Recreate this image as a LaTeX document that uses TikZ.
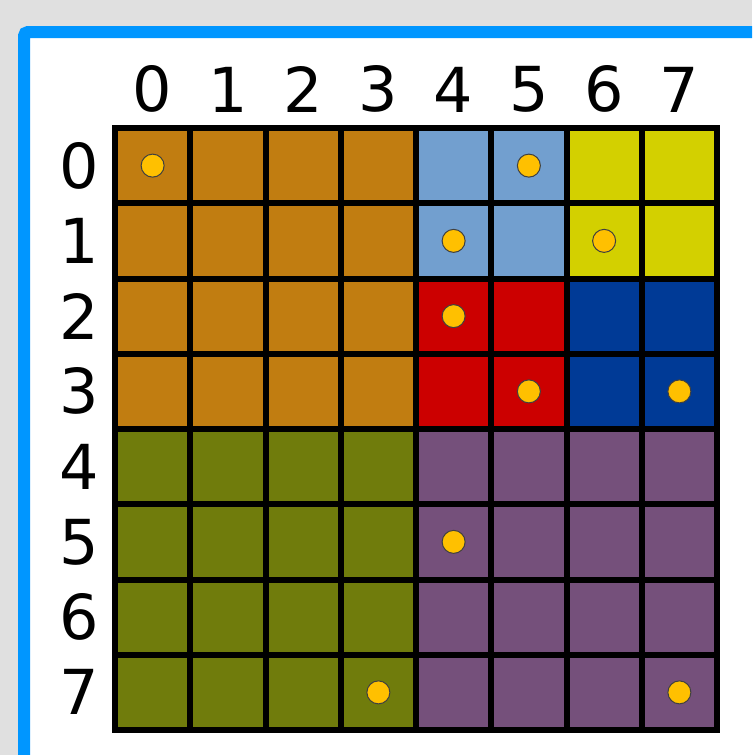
\documentclass[tikz,border=0pt]{standalone}
\usepackage{fontspec}
\setsansfont{DejaVu Sans}
\usepackage{tikz}
\usepackage{xcolor}
\usetikzlibrary{positioning}
\definecolor{cPaper}{HTML}{E0E0E0}
\definecolor{cFrame}{HTML}{0096FF}
\definecolor{cBrown}{HTML}{C17D11}
\definecolor{cSky}  {HTML}{729FCF}
\definecolor{cLime} {HTML}{D3D000}
\definecolor{cRed}  {HTML}{CC0000}
\definecolor{cNavy} {HTML}{003A96}
\definecolor{cOlive}{HTML}{707C0C}
\definecolor{cPlum} {HTML}{75507B}
\definecolor{cDot}  {HTML}{FFC000}
\tikzset{
  cell/.style ={draw=black,line width=3pt,minimum size=37.625pt,inner sep=0pt},
  dot/.style  ={circle,fill=cDot,draw=black!75,line width=0.5pt,
                minimum size=11.5pt,inner sep=0pt},
  lbl/.style  ={font=\fontsize{31}{36}\selectfont\sffamily,inner sep=0pt},
}
\begin{document}
\begin{tikzpicture}[x=0.5pt,y=-0.5pt]
\useasboundingbox[fill=cPaper] (0,0) rectangle (752,755);
\clip (0,0) rectangle (752,755);
\draw[line width=6pt,draw=cFrame,fill=white,rounded corners=2pt] (24,32) rectangle (800,800);
% colour blocks: first column / first row / size / colour
\foreach \cx/\cy/\n/\c in {0/0/4/cBrown,4/0/2/cSky,6/0/2/cLime,4/2/2/cRed,
                           6/2/2/cNavy,0/4/4/cOlive,4/4/4/cPlum}{
  \pgfmathtruncatemacro{\last}{\n-1}
  \foreach \dx in {0,...,\last}
    \foreach \dy in {0,...,\last}{
      \pgfmathtruncatemacro{\i}{\cx+\dx}
      \pgfmathtruncatemacro{\j}{\cy+\dy}
      \node[cell,fill=\c] (c-\i-\j) at ({115+75.25*(\i+0.5)},{128+75.25*(\j+0.5)}) {};
    }
}
% column and row numbers
\foreach \k in {0,...,7}{
  \node[lbl,above=6pt of c-\k-0] (col-\k) {\k};
  \node[lbl,left=6.5pt of c-0-\k] (row-\k) {\k};
}
% marked cells
\foreach \i/\j in {0/0,5/0,4/1,6/1,4/2,5/3,7/3,4/5,3/7,7/7}
  \node[dot] (d-\i-\j) at (c-\i-\j) {};
\end{tikzpicture}
\end{document}
